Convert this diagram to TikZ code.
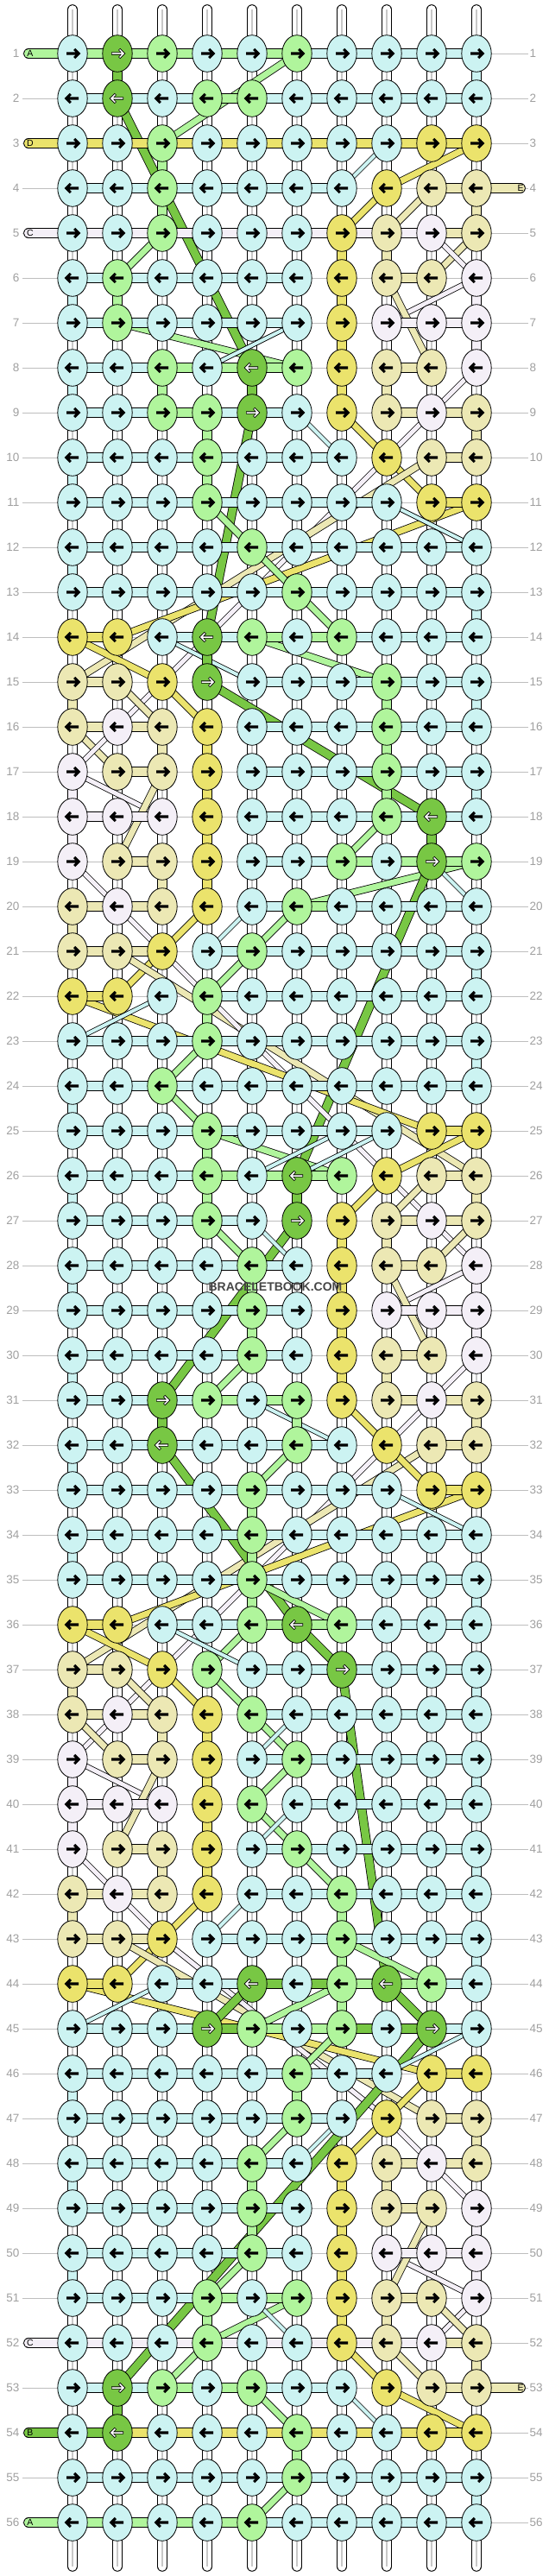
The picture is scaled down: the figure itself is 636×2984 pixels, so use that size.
\documentclass[tikz,border=0pt]{standalone}
\usepackage{fontspec}
\setmainfont{Liberation Sans}
\usetikzlibrary{shapes.geometric}
\definecolor{colc}{RGB}{204,243,242}
\definecolor{colg}{RGB}{176,245,156}
\definecolor{cold}{RGB}{120,199,68}
\definecolor{coly}{RGB}{235,227,108}
\definecolor{colk}{RGB}{236,232,180}
\definecolor{colp}{RGB}{244,239,247}
\definecolor{numgray}{RGB}{160,160,160}
\definecolor{linegray}{RGB}{190,190,190}
\definecolor{tubeline}{RGB}{200,200,200}
\definecolor{wmgray}{RGB}{70,70,70}
\colorlet{arrc}{black}\colorlet{arrg}{black}\colorlet{arrd}{white}
\colorlet{arry}{black}\colorlet{arrk}{black}\colorlet{arrp}{black}
\def\bwc{4}\def\bwg{7}\def\bwd{9}\def\bwy{7}\def\bwk{7}\def\bwp{5}
\def\letc{c}\def\letn{n}
\begin{document}
\begin{tikzpicture}[x=1pt,y=-1pt,
  knot/.style={ellipse, draw=black, line width=0.8pt, minimum width=34.4pt, minimum height=42.6pt, inner sep=0pt},
  numlab/.style={font=\fontsize{13.5}{14}\selectfont, text=numgray, inner sep=0pt},
  stublab/.style={font=\fontsize{10.5}{11}\selectfont, inner sep=0pt}]
\useasboundingbox (0,0) rectangle (636,2984);
\fill[white] (0,0) rectangle (636,2984);
% grid coordinates
\foreach \ri in {1,...,56}{\foreach \ci in {1,...,10}{
  \coordinate (p-\ri-\ci) at ({84+52*(\ci-1)},{62+52*(\ri-1)});}}
% knot colours
\foreach \ri/\row in {
1/{c,d,g,c,c,g,c,c,c,c},2/{c,d,c,g,g,c,c,c,c,c},3/{c,c,g,c,c,c,c,c,y,y},4/{c,c,g,c,c,c,c,y,k,k},
5/{c,c,g,c,c,c,y,k,p,k},6/{c,g,c,c,c,c,y,k,k,p},7/{c,g,c,c,c,c,y,p,p,p},8/{c,c,g,c,d,g,y,k,k,p},
9/{c,c,g,g,d,c,y,k,p,k},10/{c,c,c,g,c,c,c,y,k,k},11/{c,c,c,g,c,c,c,c,y,y},12/{c,c,c,c,g,c,c,c,c,c},
13/{c,c,c,c,c,g,c,c,c,c},14/{y,y,c,d,g,c,g,c,c,c},15/{k,k,y,d,c,c,c,g,c,c},16/{k,p,k,y,c,c,c,g,c,c},
17/{p,k,k,y,c,c,c,g,c,c},18/{p,p,p,y,c,c,c,g,d,c},19/{p,k,k,y,c,c,g,c,d,g},20/{k,p,k,y,c,g,c,c,c,c},
21/{k,k,y,c,g,c,c,c,c,c},22/{y,y,c,g,c,c,c,c,c,c},23/{c,c,c,g,c,c,c,c,c,c},24/{c,c,g,c,c,c,c,c,c,c},
25/{c,c,c,g,c,c,c,c,y,y},26/{c,c,c,g,c,d,g,y,k,k},27/{c,c,c,g,c,d,y,k,p,k},28/{c,c,c,c,g,c,y,k,k,p},
29/{c,c,c,c,g,c,y,p,p,p},30/{c,c,c,c,g,c,y,k,k,p},31/{c,c,d,g,c,g,y,k,p,k},32/{c,c,d,c,c,g,c,y,k,k},
33/{c,c,c,c,g,c,c,c,y,y},34/{c,c,c,c,g,c,c,c,c,c},35/{c,c,c,c,g,c,c,c,c,c},36/{y,y,c,c,g,d,g,c,c,c},
37/{k,k,y,g,c,c,d,c,c,c},38/{k,p,k,y,g,c,c,c,c,c},39/{p,k,k,y,c,g,c,c,c,c},40/{p,p,p,y,g,c,c,c,c,c},
41/{p,k,k,y,c,g,c,c,c,c},42/{k,p,k,y,c,c,g,c,c,c},43/{k,k,y,c,c,c,g,c,c,c},44/{y,y,c,c,d,c,g,d,g,c},
45/{c,c,c,d,g,c,g,c,d,c},46/{c,c,c,c,c,g,c,c,y,y},47/{c,c,c,c,c,g,c,y,k,k},48/{c,c,c,c,g,c,y,k,p,k},
49/{c,c,c,c,g,c,y,k,k,p},50/{c,c,c,c,g,c,y,p,p,p},51/{c,c,c,g,c,g,y,k,k,p},52/{c,c,c,g,c,c,y,k,p,k},
53/{c,d,g,c,g,c,c,y,k,k},54/{c,d,c,c,c,g,c,c,y,y},55/{c,c,c,c,c,g,c,c,c,c},56/{c,c,c,c,g,c,c,c,c,c}}{
  \foreach \cc [count=\ci] in \row {\expandafter\xdef\csname kc-\ri-\ci\endcsname{\cc}}}
% row guide lines
\foreach \ri in {1,...,56}{
  \coordinate (gl-\ri) at (26,{62+52*(\ri-1)});
  \coordinate (gr-\ri) at (612,{62+52*(\ri-1)});
  \draw[linegray, line width=0.9] (gl-\ri) -- (gr-\ri);}
% vertical strings
\foreach \ci in {1,...,10}{
  \coordinate (tt-\ci) at ({84+52*(\ci-1)},11);
  \coordinate (tb-\ci) at ({84+52*(\ci-1)},2973);
  \draw[line width=11.6, line cap=round] (tt-\ci) -- (tb-\ci);
  \draw[white, line width=9.8, line cap=round] (tt-\ci) -- (tb-\ci);
  \draw[tubeline, line width=1.2] (tt-\ci) -- (tb-\ci);}
% diagonal strands
\foreach \ra/\ca/\rb/\cb/\cl in {
1/6/3/3/g,2/2/8/5/d,5/3/6/2/g,7/2/8/6/g,7/6/8/4/c,3/8/4/7/c,3/10/4/8/y,4/8/5/7/y,4/9/5/8/k,
5/10/6/9/k,5/9/6/10/p,6/10/7/8/p,6/8/8/9/k,8/10/9/9/p,9/9/16/2/p,9/7/10/8/y,9/6/10/7/c,9/5/14/4/d,
10/8/11/9/y,10/9/15/1/k,11/10/14/2/y,11/8/12/10/c,11/4/12/5/g,12/5/13/6/g,13/6/14/7/g,14/5/15/8/g,
14/3/15/5/c,15/4/18/9/d,14/1/15/3/y,15/2/16/3/k,15/3/16/4/y,16/1/17/2/k,16/2/17/1/p,17/1/18/3/p,
17/3/19/2/k,18/8/19/7/g,19/10/20/6/g,19/9/20/10/c,19/9/26/6/d,20/6/21/5/g,21/5/22/4/g,20/5/21/4/c,
20/4/21/3/y,21/3/22/2/y,19/1/20/2/p,20/2/21/3/p,21/2/26/10/k,21/3/27/9/p,22/1/25/9/y,22/3/23/1/c,
23/4/24/3/g,24/3/25/4/g,25/4/26/7/g,25/7/26/5/c,25/8/26/6/c,25/10/26/8/y,26/8/27/7/y,26/9/27/8/k,
27/9/28/10/p,27/10/28/9/k,27/4/28/5/g,27/6/31/3/d,27/5/28/6/c,28/10/29/8/p,28/8/30/9/k,30/5/31/4/g,
31/5/32/7/c,30/10/31/9/p,31/9/38/2/p,32/9/37/1/k,31/7/32/8/y,32/8/33/9/y,33/10/36/2/y,33/8/34/10/c,
32/3/36/6/d,32/6/33/5/g,35/5/36/7/g,36/6/37/7/d,37/7/44/8/d,36/5/37/4/g,37/4/38/5/g,38/5/39/6/g,
39/6/40/5/g,38/6/39/5/c,36/3/37/5/c,36/1/37/3/y,37/3/38/4/y,37/2/38/3/k,38/2/39/1/p,38/1/39/2/k,
39/1/40/3/p,39/3/41/2/k,40/5/41/6/g,40/6/41/5/c,41/6/42/7/g,41/1/42/2/p,42/2/43/3/p,42/4/43/3/y,
42/5/43/4/c,43/7/44/9/g,43/3/44/2/y,43/2/47/9/k,43/3/47/8/p,44/1/46/9/y,44/3/45/1/c,44/5/45/4/d,
44/8/45/9/d,45/9/53/2/d,44/7/45/5/g,45/7/46/6/g,45/10/46/8/c,46/9/47/8/y,47/8/48/7/y,47/7/48/6/c,
47/6/48/5/g,47/8/48/9/p,48/9/49/10/p,51/10/50/8/p,51/8/49/9/k,52/9/51/10/p,52/10/51/9/k,
53/9/52/8/k,53/8/52/7/y,54/10/53/8/y,54/8/53/7/c,50/5/51/4/g,51/6/52/4/g,52/4/53/3/g,53/5/54/6/g,
55/6/56/5/g,51/5/52/6/c}{
  \edef\bw{\csname bw\cl\endcsname}
  \pgfmathsetmacro\bwo{\bw+1.6}
  \draw[line width=\bwo] (p-\ra-\ca) -- (p-\rb-\cb);
  \draw[draw=col\cl, line width=\bw] (p-\ra-\ca) -- (p-\rb-\cb);}
% horizontal strand segments
\foreach \ri/\row in {
1/{g,g,g,g,g,c,c,c,c},2/{c,c,c,g,c,c,c,c,c},3/{y,y,y,y,y,y,y,y,y},4/{c,c,c,c,c,c,n,n,k},
5/{p,p,p,p,p,p,p,p,k},6/{c,c,c,c,c,n,n,k,n},7/{c,c,c,c,c,n,n,p,p},8/{c,c,g,g,g,n,n,k,n},
9/{c,c,g,c,c,n,n,k,k},10/{c,c,c,c,c,c,n,n,k},11/{c,c,c,c,c,c,c,n,y},12/{c,c,c,c,c,c,c,c,c},
13/{c,c,c,c,c,c,c,c,c},14/{y,n,c,c,g,g,c,c,c},15/{k,n,n,n,c,c,c,c,c},16/{k,k,n,n,c,c,c,c,c},
17/{n,k,n,n,c,c,c,c,c},18/{p,p,n,n,c,c,c,c,c},19/{n,k,n,n,c,c,g,g,g},20/{k,k,n,n,c,g,c,c,c},
21/{k,k,n,c,c,c,c,c,c},22/{y,n,n,c,c,c,c,c,c},23/{c,c,c,c,c,c,c,c,c},24/{c,c,c,c,c,c,c,c,c},
25/{c,c,c,c,c,c,c,n,y},26/{c,c,c,g,g,g,n,n,k},27/{c,c,c,c,n,n,n,k,k},28/{c,c,c,c,c,n,n,k,n},
29/{c,c,c,c,c,n,n,p,p},30/{c,c,c,c,c,n,n,k,n},31/{c,c,c,g,g,n,n,k,k},32/{c,c,c,c,c,c,n,n,k},
33/{c,c,c,c,c,c,c,n,y},34/{c,c,c,c,c,c,c,c,c},35/{c,c,c,c,c,c,c,c,c},36/{y,n,c,c,g,g,c,c,c},
37/{k,n,n,n,c,c,c,c,c},38/{k,k,n,n,c,c,c,c,c},39/{n,k,n,n,c,c,c,c,c},40/{p,p,n,n,n,c,c,c,c},
41/{n,k,n,n,c,c,c,c,c},42/{k,k,n,n,c,c,c,c,c},43/{k,k,n,c,c,c,c,c,c},44/{y,n,c,c,d,d,g,g,c},
45/{c,c,c,d,g,g,d,d,c},46/{c,c,c,c,c,c,c,n,y},47/{c,c,c,c,c,c,n,n,k},48/{c,c,c,c,c,n,n,k,k},
49/{c,c,c,c,c,n,n,k,n},50/{c,c,c,c,c,n,n,p,p},51/{c,c,c,g,g,n,n,k,n},52/{p,p,p,p,p,p,p,p,k},
53/{c,c,g,g,c,c,n,n,k},54/{d,y,y,y,y,y,y,y,y},55/{c,c,c,c,c,c,c,c,c},56/{g,g,g,g,c,c,c,c,c}}{
  \foreach \g [count=\ji] in \row {
    \expandafter\xdef\csname gc-\ri-\ji\endcsname{\g}
    \edef\gcur{\g}
    \ifx\gcur\letn\else
      \pgfmathtruncatemacro\jn{\ji+1}
      \draw[line width=11.6] (p-\ri-\ji) -- (p-\ri-\jn);
      \draw[draw=col\g, line width=10] (p-\ri-\ji) -- (p-\ri-\jn);
    \fi}}
% vertical strand segments
\foreach \ri in {1,...,55}{
  \pgfmathtruncatemacro\rn{\ri+1}
  \foreach \ci in {1,...,10}{
    \edef\ca{\csname kc-\ri-\ci\endcsname}
    \edef\cb{\csname kc-\rn-\ci\endcsname}
    \let\vcol\empty
    \ifx\ca\cb \ifx\ca\letc\else \let\vcol\ca \fi\fi
    \ifnum\ci=1 \ifodd\ri\else
      \edef\ga{\csname gc-\ri-1\endcsname}\edef\gb{\csname gc-\rn-1\endcsname}
      \ifx\ga\gb \ifx\ga\letn\else \let\vcol\ga\fi\fi
    \fi\fi
    \ifnum\ci=10 \ifodd\ri
      \edef\ga{\csname gc-\ri-9\endcsname}\edef\gb{\csname gc-\rn-9\endcsname}
      \ifx\ga\gb \ifx\ga\letn\else \let\vcol\ga\fi\fi
    \fi\fi
    \ifx\vcol\empty\else
      \draw[line width=11.6] (p-\ri-\ci) -- (p-\rn-\ci);
      \draw[draw=col\vcol, line width=10] (p-\ri-\ci) -- (p-\rn-\ci);
    \fi}}
% string ends with letters
\foreach \ri/\L/\cl in {1/A/g,3/D/y,5/C/p,52/C/p,54/B/d,56/A/g}{
  \coordinate (sl-\ri) at (33,{62+52*(\ri-1)});
  \draw[line width=11.6, line cap=round] (sl-\ri) -- (p-\ri-1);
  \draw[draw=col\cl, line width=10, line cap=round] (sl-\ri) -- (p-\ri-1);
  \node[stublab] (lab-\ri) at (35,{62+52*(\ri-1)}) {\L};}
\foreach \ri/\L/\cl in {4/E/k,53/E/k}{
  \coordinate (sr-\ri) at (603,{62+52*(\ri-1)});
  \draw[line width=11.6, line cap=round] (sr-\ri) -- (p-\ri-10);
  \draw[draw=col\cl, line width=10, line cap=round] (sr-\ri) -- (p-\ri-10);
  \node[stublab] (lab-\ri) at (603,{62+52*(\ri-1)}) {\L};}
% knots and arrows
\foreach \ri in {1,...,56}{
  \ifodd\ri \def\sx{1}\else\def\sx{-1}\fi
  \foreach \ci in {1,...,10}{
    \edef\cc{\csname kc-\ri-\ci\endcsname}
    \node[knot, fill=col\cc] (k-\ri-\ci) at (p-\ri-\ci) {};
    \begin{scope}[shift={(p-\ri-\ci)}, xscale=\sx]
      \draw[line width=3.1] (-7,0) -- (7,0) (2.2,-5) -- (7.2,0) -- (2.2,5);
      \draw[draw=arr\cc, line width=1.5] (-6.4,0) -- (6.6,0) (2.6,-4.5) -- (7,0) -- (2.6,4.5);
    \end{scope}}}
% row numbers
\foreach \ri in {1,...,56}{
  \node[numlab, anchor=east] (nl-\ri) at (22.5,{62+52*(\ri-1)}) {\ri};
  \node[numlab, anchor=west] (nr-\ri) at (613.5,{62+52*(\ri-1)}) {\ri};}
\node[font=\bfseries\fontsize{14}{16}\selectfont, text=wmgray, inner sep=0pt] (wm) at (319,1491) {BRACELETBOOK.COM};
\end{tikzpicture}
\end{document}
